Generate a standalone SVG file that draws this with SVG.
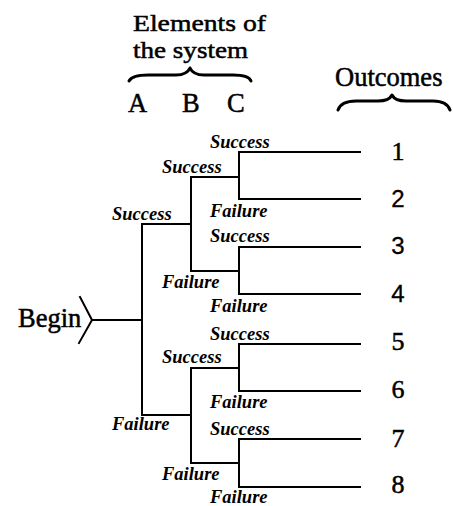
<svg xmlns="http://www.w3.org/2000/svg" width="453" height="506" viewBox="0 0 453 506">
<style>
.hd{font-family:"Liberation Serif","Times New Roman",serif;font-size:26.5px;fill:#000;stroke:#000;stroke-width:0.5}
.hs{font-family:"Liberation Serif","Times New Roman",serif;font-size:24px;fill:#000;stroke:#000;stroke-width:0.5}
.lb{font-family:"Liberation Serif","Times New Roman",serif;font-size:18.5px;font-style:italic;font-weight:bold;fill:#000}
.ns{font-family:"Liberation Serif","Times New Roman",serif;font-size:26px;fill:#000;stroke:#000;stroke-width:0.5;text-anchor:middle}
.nsa{font-family:"Liberation Sans",Arial,sans-serif;font-size:24px;fill:#000;stroke:#000;stroke-width:0.3;text-anchor:middle}
.ln{fill:none;stroke:#000;stroke-width:2;stroke-linecap:square}
.br{fill:none;stroke:#000;stroke-width:3;stroke-linecap:round;stroke-linejoin:round}
</style>
<rect width="453" height="506" fill="#fff"/>
<g id="header">
<text class="hs" x="133" y="31" textLength="133" lengthAdjust="spacingAndGlyphs">Elements of</text>
<text class="hs" x="133" y="58" textLength="115" lengthAdjust="spacingAndGlyphs">the system</text>
<path class="br" d="M129,81 Q132,75 148,75 L176,75 Q187,75 190,68 Q193,75 204,75 L233,75 Q249,75 251,81"/>
<text class="hd" x="128" y="112">A</text>
<text class="hd" x="182" y="112">B</text>
<text class="hd" x="227" y="112">C</text>
<text class="hd" x="335" y="86">Outcomes</text>
<path class="br" d="M338,110 Q341,101 356,101 L378,101 Q389,101 392,95 Q395,101 406,101 L433,101 Q447,101 450,110"/>
</g>
<g id="begin">
<text class="hd" x="18" y="327">Begin</text>
<path class="ln" d="M80,297 L92,320 L79,343" stroke-linecap="butt"/>
</g>
<g id="connectors">
<path class="ln" d="M92,320 H142"/>
<path class="ln" d="M142,224 V415"/>
<path class="ln" d="M142,224 H191 M142,415 H191"/>
<path class="ln" d="M191,177 V271 M191,368 V463"/>
<path class="ln" d="M191,177 H239 M191,271 H239 M191,368 H239 M191,463 H239"/>
<path class="ln" d="M239,152 V199 M239,247 V294 M239,344 V391 M239,439 V487"/>
<path class="ln" d="M239,152 H360 M239,199 H360 M239,247 H360 M239,294 H360 M239,344 H360 M239,391 H360 M239,439 H360 M239,487 H360"/>
</g>
<g id="labels">
<text class="lb" x="112" y="220">Success</text>
<text class="lb" x="112" y="430">Failure</text>
<text class="lb" x="162" y="173">Success</text>
<text class="lb" x="162" y="288">Failure</text>
<text class="lb" x="162" y="363">Success</text>
<text class="lb" x="162" y="480">Failure</text>
<text class="lb" x="210" y="148">Success</text>
<text class="lb" x="210" y="217">Failure</text>
<text class="lb" x="210" y="242">Success</text>
<text class="lb" x="210" y="312">Failure</text>
<text class="lb" x="210" y="340">Success</text>
<text class="lb" x="210" y="408">Failure</text>
<text class="lb" x="210" y="435">Success</text>
<text class="lb" x="210" y="503">Failure</text>
</g>
<g id="outcomes">
<text class="ns" x="398" y="160">1</text>
<text class="nsa" x="398" y="207">2</text>
<text class="nsa" x="398" y="254">3</text>
<text class="nsa" x="398" y="302">4</text>
<text class="ns" x="398" y="350">5</text>
<text class="ns" x="398" y="398">6</text>
<text class="ns" x="398" y="447">7</text>
<text class="ns" x="398" y="493">8</text>
</g>
</svg>
